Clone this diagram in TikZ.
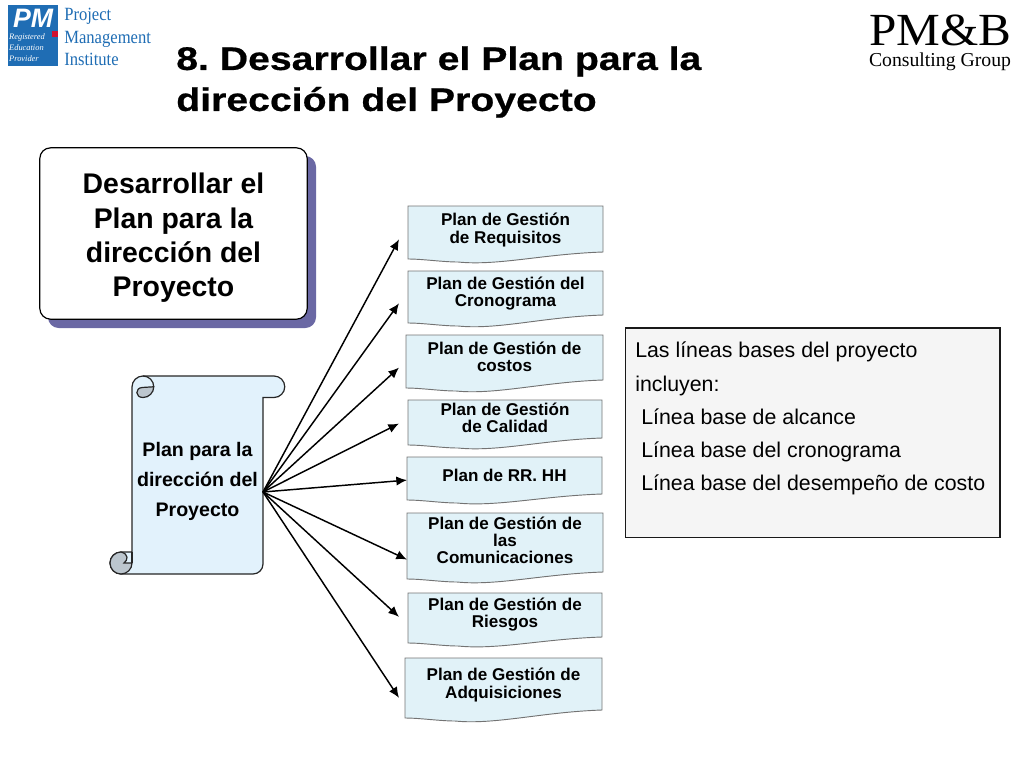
\documentclass[tikz,border=0pt]{standalone}
\usepackage{fontspec}
\setmainfont{Liberation Sans}
\newfontfamily\logofont{Liberation Serif}
\newfontfamily\pmbfont[FakeStretch=1.07]{Liberation Serif}
\newfontfamily\pminamefont[FakeStretch=.89]{Liberation Serif}
\newfontfamily\titlefont[FakeStretch=1.2,FakeBold=0.6]{Liberation Sans}
\usetikzlibrary{positioning, calc, arrows.meta}
\definecolor{docblue}{HTML}{E1F2F8}
\definecolor{scrollblue}{HTML}{E2F2FC}
\definecolor{curlgrey}{HTML}{BCC6CE}
\definecolor{shadowblue}{HTML}{6A68A4}
\definecolor{pmiblue}{HTML}{1F6DB4}
\definecolor{pmired}{HTML}{D01030}
\tikzstyle{planshape}=[draw=black!55, fill=docblue, line width=0.7pt]
\tikzstyle{plantext}=[font=\bfseries\fontsize{12.8}{12.8}\selectfont, align=center, inner sep=0pt]
\tikzstyle{scrollline}=[draw=black!85, line width=0.9pt]
% name, left, top, right, bottom at right, lowest, gap, text y, text
\newcommand{\plandoc}[9]{
  \draw[planshape] (#2,#3) -- (#4,#3) -- (#4,#5)
    .. controls ({#4-60},{#5+2}) and ({#2+90},{#6+4}) .. ({#2+50},#6)
    .. controls ({#2+35},#6) and ({#2+15},{#6-3}) .. (#2,{#6-3}) -- cycle;
  \node[plantext, minimum width={(#4-#2)*0.75pt}, minimum height=46*0.75pt, outer xsep={#7*0.75pt}] (#1) at ({(#2+#4)/2},#8) {#9};
}

\begin{document}
\begin{tikzpicture}[x=0.75pt,y=-0.75pt]
        \useasboundingbox (0,0) rectangle (1024,768);

        % PMI logo
        \fill[pmiblue] (8,5) rectangle (58,66);
        \fill[pmired] (52,31) rectangle (58,37);
        \node[text=white, font=\bfseries\itshape\fontsize{20}{20}\selectfont, inner sep=0pt] (pmiletters) at (33,18) {PM};
        \node[text=white, font=\logofont\itshape\fontsize{6.3}{8.2}\selectfont, align=left, inner sep=0pt] (pmireg) at (27,48) {Registered\\Education\\Provider};
        \node[text=pmiblue, font=\pminamefont\fontsize{14}{17}\selectfont, align=left, inner sep=0pt, anchor=west] (pminame) at (64,37) {Project\\Management\\Institute};

        % PM&B logo
        \node[font=\pmbfont\fontsize{34.5}{34.5}\selectfont, inner sep=0pt] (pmb) at (940.5,30) {PM\&B};
        \node[font=\logofont\fontsize{14.8}{14.8}\selectfont, inner sep=0pt] (consulting) at (940,62) {Consulting Group};

        % title
        \node[anchor=west, align=left, inner sep=0pt, font=\titlefont\bfseries\fontsize{24.5}{30.75}\selectfont] (title) at (176,82) {\frenchspacing 8. Desarrollar el Plan para la\\dirección del Proyecto};

        % process box
        \fill[shadowblue, rounded corners=8pt] (48,156) rectangle (316,328);
        \node[draw=black, fill=white, rounded corners=8pt, line width=0.9pt, minimum width=200.5pt, minimum height=128.5pt, inner sep=0pt] (process) at (173.5,233.5) {};
        \node[align=center, inner sep=0pt, font=\bfseries\fontsize{21.3}{25.8}\selectfont] (processtext) at (173.5,238) {Desarrollar el\\Plan para la\\dirección del\\Proyecto};

        % scroll
        \draw[scrollline, fill=scrollblue]
          (143,376) -- (274,376) arc[start angle=-90, end angle=90, radius=10.75] -- (263,397.5)
          -- (263,564) arc[start angle=0, end angle=90, radius=10] -- (121,574)
          arc[start angle=90, end angle=270, radius=11] -- (132,552) -- (132,387)
          arc[start angle=180, end angle=270, radius=11] -- cycle;
        \draw[scrollline, fill=curlgrey]
          (153.75,386.75) arc[start angle=0, end angle=90, radius=10.75]
          .. controls (135,397.5) and (135,388) .. (142,387.5) -- cycle;
        \draw[scrollline] (143,376) arc[start angle=-90, end angle=0, radius=10.75];
        \draw[scrollline, fill=curlgrey]
          (121,552) arc[start angle=270, end angle=90, radius=11]
          arc[start angle=90, end angle=0, radius=11] -- (124,563)
          .. controls (128,560) and (129,554) .. cycle;
        \draw[scrollline] (132,552) -- (132,563);
        \node[inner sep=0pt, align=center, font=\bfseries\fontsize{14.7}{22.5}\selectfont] (plan) at (197.5,481) {Plan para la\\dirección del\\Proyecto};
        \coordinate (hub) at (263,492);

        % plans
        \plandoc{req}{408}{206}{603}{252}{262}{9}{230}{Plan de Gestión\\ de Requisitos}
        \plandoc{crono}{408}{271}{603}{315}{326}{9}{294}{Plan de Gestión del\\Cronograma}
        \plandoc{costos}{406}{335}{603}{380}{391}{7}{356.5}{Plan de Gestión de\\costos}
        \plandoc{calidad}{408}{400}{602}{438}{448}{9}{418}{Plan de Gestión\\ de Calidad}
        \plandoc{rrhh}{407}{457}{602}{494}{503}{0}{475}{Plan de RR. HH}
        \plandoc{comu}{407}{513}{603}{572}{582}{0}{540.5}{Plan de Gestión de\\las\\Comunicaciones}
        \plandoc{riesgos}{408}{593}{602}{637}{646}{9}{615}{Plan de Gestión de\\Riesgos}
        \plandoc{adqui}{405}{658}{602}{710}{721}{6}{685}{Plan de Gestión de\\Adquisiciones}

        \path[-{Latex[length=8pt,width=7pt]}, line width=1.1pt]
        (hub) edge (req.185.4)
        (hub) edge (crono.185.4)
        (hub) edge (costos.186.2)
        (hub) edge (calidad.183.8)
        (hub) edge (rrhh.183.9)
        (hub) edge (comu.191.6)
        (hub) edge (riesgos.181.1)
        (hub) edge (adqui.187.1);

        % baselines
        \node[draw=black!90, fill=black!4, line width=1pt, minimum width=281pt, minimum height=157pt] (baselines) at (812.5,432.5) {};
        \node[anchor=north west, align=left, inner sep=0pt, font=\fontsize{16}{24.8}\selectfont] (basetext) at (635,342) {Las líneas bases del proyecto\\incluyen:\\ \hspace{4.5pt}Línea base de alcance\\ \hspace{4.5pt}Línea base del cronograma\\ \hspace{4.5pt}Línea base del desempeño de costo};
\end{tikzpicture}
\end{document}
